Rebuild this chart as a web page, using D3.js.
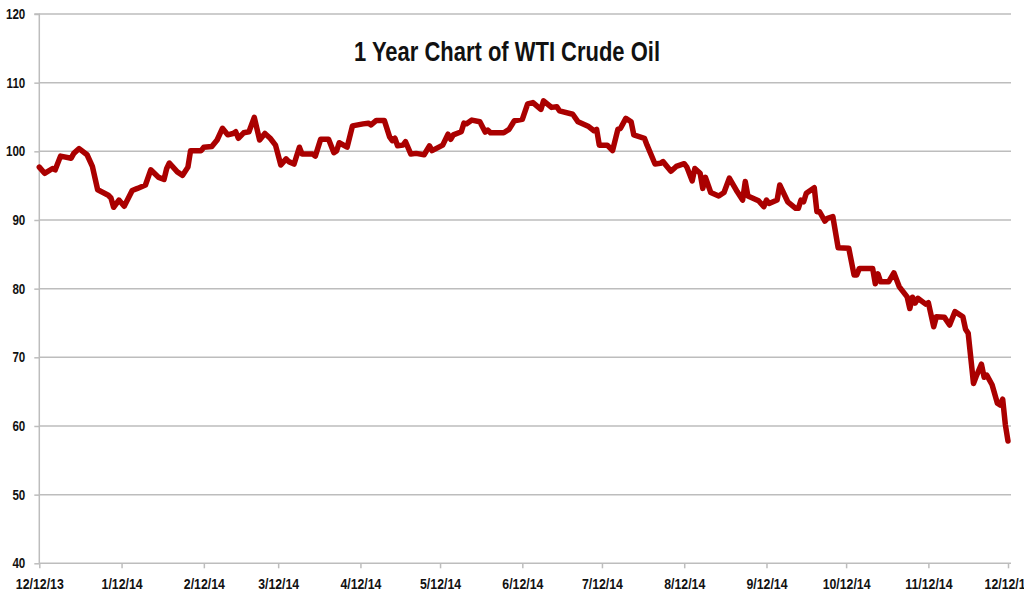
<!DOCTYPE html>
<html>
<head>
<meta charset="utf-8">
<script src="https://cdn.jsdelivr.net/npm/d3@7"></script>
<style>
  html, body { margin: 0; padding: 0; background: #fff; }
  svg { display: block; }
  .lbl { font-family: "Liberation Sans", Arial, sans-serif; font-weight: bold; fill: #111; }
</style>
</head>
<body>
<svg id="chart" width="1024" height="595"></svg>
<script>
const chartTitle = "1 Year Chart of WTI Crude Oil";
const dates = [
"2013-12-12","2013-12-14","2013-12-17","2013-12-18","2013-12-20","2013-12-24","2013-12-25","2013-12-27","2013-12-30",
"2014-01-01","2014-01-03","2014-01-07","2014-01-08","2014-01-09","2014-01-11","2014-01-13","2014-01-16","2014-01-18","2014-01-21","2014-01-23","2014-01-26","2014-01-28","2014-01-29","2014-01-30",
"2014-02-02","2014-02-04","2014-02-06","2014-02-07","2014-02-11","2014-02-12","2014-02-15","2014-02-17","2014-02-19","2014-02-21","2014-02-23","2014-02-24","2014-02-25","2014-02-27",
"2014-03-01","2014-03-03","2014-03-05","2014-03-07","2014-03-09","2014-03-11","2014-03-13","2014-03-15","2014-03-16","2014-03-18","2014-03-20","2014-03-21","2014-03-25","2014-03-26","2014-03-28","2014-03-31",
"2014-04-02","2014-04-03","2014-04-04","2014-04-07","2014-04-09","2014-04-11","2014-04-13","2014-04-15","2014-04-16","2014-04-18","2014-04-21","2014-04-23","2014-04-24","2014-04-25","2014-04-26","2014-04-28","2014-04-29",
"2014-05-01","2014-05-03","2014-05-06","2014-05-08","2014-05-09","2014-05-13","2014-05-15","2014-05-16","2014-05-17","2014-05-20","2014-05-21","2014-05-22","2014-05-24","2014-05-27","2014-05-29","2014-05-30","2014-05-31",
"2014-06-05","2014-06-07","2014-06-09","2014-06-12","2014-06-14","2014-06-16","2014-06-19","2014-06-20","2014-06-23","2014-06-25","2014-06-26",
"2014-07-01","2014-07-03","2014-07-07","2014-07-09","2014-07-10","2014-07-11","2014-07-14","2014-07-16","2014-07-18","2014-07-19","2014-07-21","2014-07-23","2014-07-24","2014-07-28","2014-07-29",
"2014-08-01","2014-08-03","2014-08-04","2014-08-07","2014-08-09","2014-08-12","2014-08-13","2014-08-15","2014-08-16","2014-08-18","2014-08-19","2014-08-20","2014-08-22","2014-08-25","2014-08-27","2014-08-29",
"2014-09-01","2014-09-03","2014-09-04","2014-09-05","2014-09-09","2014-09-11","2014-09-12","2014-09-13","2014-09-16","2014-09-17","2014-09-20","2014-09-23","2014-09-24","2014-09-25","2014-09-26","2014-09-27","2014-09-30",
"2014-10-01","2014-10-02","2014-10-04","2014-10-05","2014-10-07","2014-10-09","2014-10-13","2014-10-15","2014-10-16","2014-10-17","2014-10-22","2014-10-23","2014-10-24","2014-10-25","2014-10-28","2014-10-30",
"2014-11-01","2014-11-04","2014-11-05","2014-11-06","2014-11-07","2014-11-08","2014-11-11","2014-11-12","2014-11-14","2014-11-15","2014-11-18","2014-11-20","2014-11-22","2014-11-25","2014-11-26","2014-11-27","2014-11-29","2014-11-30",
"2014-12-02","2014-12-03","2014-12-04","2014-12-06","2014-12-08","2014-12-09","2014-12-10","2014-12-11","2014-12-12"
];
const prices = [
97.7,96.8,97.5,97.3,99.3,99.0,99.7,100.4,99.5,
97.8,94.4,93.6,93.2,91.85,92.9,92.0,94.3,94.6,95.1,97.3,96.2,95.9,97.5,98.3,
97.0,96.5,97.7,100.1,100.1,100.6,100.7,101.65,103.35,102.4,102.6,102.85,101.9,102.7,
102.85,104.95,101.65,102.6,101.9,100.9,98.0,98.9,98.5,98.15,100.6,99.6,99.6,99.3,101.75,101.75,
99.8,100.05,101.25,100.6,103.7,103.85,104.0,104.1,103.85,104.5,104.5,102.1,101.55,101.9,100.8,100.9,101.4,
99.6,99.7,99.5,100.8,100.1,100.9,102.5,101.75,102.4,102.85,104.1,104.0,104.55,104.3,102.8,103.1,102.7,
102.7,103.2,104.45,104.65,106.9,107.1,106.1,107.35,106.4,106.5,105.9,
105.4,104.3,103.6,103.0,103.2,100.9,100.9,100.1,103.2,103.35,104.8,104.3,102.4,101.9,100.9,
98.15,98.25,98.5,97.1,97.8,98.2,97.7,95.7,97.5,96.8,94.6,96.2,94.0,93.5,94.0,96.1,
94.1,92.9,95.6,93.5,92.8,91.95,92.9,92.4,92.9,95.1,92.65,91.7,91.7,92.9,92.65,93.9,94.7,
91.2,91.2,89.85,90.25,90.5,85.95,85.9,82.0,82.0,82.95,82.95,80.7,82.15,81.0,81.0,82.3,
80.3,78.8,77.1,78.75,77.9,78.6,77.75,77.95,74.45,75.9,75.85,74.7,76.65,75.9,74.1,73.5,66.2,67.2,
69.0,67.1,67.4,66.0,63.3,63.05,63.9,60.2,57.8
];
const xTickDates = ["2013-12-12","2014-01-12","2014-02-12","2014-03-12","2014-04-12","2014-05-12","2014-06-12","2014-07-12","2014-08-12","2014-09-12","2014-10-12","2014-11-12","2014-12-12"];
const yTicks = [40, 50, 60, 70, 80, 90, 100, 110, 120];

(function () {
const parse = d3.timeParse("%Y-%m-%d");
const fmt = d3.timeFormat("%-m/%d/%y");
const data = dates.map((d, i) => ({ date: parse(d), value: prices[i] }));
const tickDates = xTickDates.map(parse);

// condense a bold sans text horizontally (narrow face look)
function narrow(sel, k) {
  sel.each(function () {
    const w = this.getComputedTextLength();
    d3.select(this).attr("textLength", w * k).attr("lengthAdjust", "spacingAndGlyphs");
  });
}

const svg = d3.select("#chart");
const pLeft = 39.3, pRight = 1008, pTop = 14, pBottom = 563.3;
const x = d3.scaleTime().domain([tickDates[0], tickDates[tickDates.length - 1]]).range([pLeft, pRight]);
const y = d3.scaleLinear().domain([40, 120]).range([pBottom, pTop]);

// grid
svg.append("g").selectAll("line").data(yTicks.filter(v => v > 40)).join("line")
  .attr("x1", pLeft).attr("x2", pRight + 3)
  .attr("y1", d => y(d)).attr("y2", d => y(d))
  .attr("stroke", "#bdbdbd").attr("stroke-width", 1.5);

// y axis
const yAxis = svg.append("g").attr("transform", `translate(${pLeft},0)`)
  .call(d3.axisLeft(y).tickValues(yTicks).tickSize(5).tickPadding(9).tickFormat(d3.format("d")));
yAxis.select(".domain").attr("stroke", "#bdbdbd").attr("stroke-width", 1.5).attr("d", `M-5,${pTop}H0V${pBottom}`);
yAxis.selectAll(".tick line").attr("stroke", "#bdbdbd").attr("stroke-width", 1.5);
yAxis.selectAll(".tick text").attr("class", "lbl").style("font-size", "14.5px").call(narrow, 0.8);

// x axis
const xAxis = svg.append("g").attr("transform", `translate(0,${pBottom})`)
  .call(d3.axisBottom(x).tickValues(tickDates).tickSize(5).tickPadding(10).tickFormat(fmt));
xAxis.select(".domain").attr("stroke", "#bdbdbd").attr("stroke-width", 1.5).attr("d", `M${pLeft},0H${pRight + 3}`);
xAxis.selectAll(".tick line").attr("stroke", "#bdbdbd").attr("stroke-width", 1.5);
xAxis.selectAll(".tick text").attr("class", "lbl").style("font-size", "15px").call(narrow, 0.82);

// line
const line = d3.line().x(d => x(d.date)).y(d => y(d.value));
svg.append("path").datum(data)
  .attr("fill", "none").attr("stroke", "#aa0000").attr("stroke-width", 5.5)
  .attr("stroke-linejoin", "round").attr("stroke-linecap", "round")
  .attr("d", line);

// title
const t = svg.append("text").attr("class", "lbl")
  .attr("x", 507).attr("y", 61).attr("text-anchor", "middle")
  .style("font-size", "28px")
  .text(chartTitle);
t.attr("textLength", 306).attr("lengthAdjust", "spacingAndGlyphs");
})();
</script>
</body>
</html>
